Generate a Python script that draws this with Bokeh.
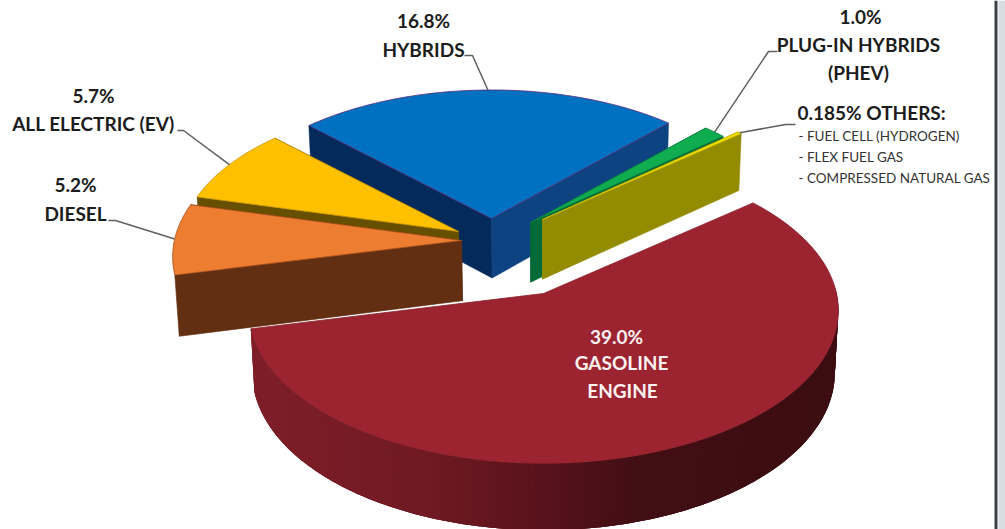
import numpy as np
from bokeh.plotting import figure
from bokeh.models import Range1d
from bokeh.core.properties import value
from bokeh.embed import file_html
from bokeh.resources import INLINE

# ---- data ----
CATEGORIES = ["GASOLINE ENGINE", "DIESEL", "ALL ELECTRIC (EV)", "HYBRIDS", "PLUG-IN HYBRIDS (PHEV)", "OTHERS"]
SHARES = [39.0, 5.2, 5.7, 16.8, 1.0, 0.185]
OTHER_ITEMS = ["- FUEL CELL (HYDROGEN)", "- FLEX FUEL GAS", "- COMPRESSED NATURAL GAS"]

# ---- styling / layout ----
TOP = ["#9c2431", "#ed7d31", "#ffc000", "#0070c0", "#10ad50", "#f0e000"]
EDGE = ["#8a1f2b", "#a8501c", "#c89400", "#5a2a7a", "#0a8040", "#c8b800"]
CUT_A = ["#6a1620", "#622f13", "#665000", "#042a5c", "#046a38", "#948c00"]   # wall at the start of the sweep
CUT_B = ["#6a1620", "#622f13", "#665000", "#0c4380", "#046a38", "#948c00"]   # wall at the end of the sweep
APEX = [(543, 293), (461, 240), (458, 231), (491, 218), (530, 222), (542, 219)]
RADIUS = [1.0, 0.98, 0.945, 0.94, 0.93, 0.945]
START_DEG = -40.0
A, C, K = 293.0, 151.0, -0.111      # perspective of the pie plane
DRAW_ORDER = [3, 4, 5, 0, 2, 1]
GRAD_X = [250, 430, 540, 640, 840]
GRAD_RGB = [(127, 31, 41), (112, 26, 36), (90, 19, 28), (66, 15, 20), (60, 13, 17)]


def project(theta, apex, r):
    u, v = r * np.cos(theta), r * np.sin(theta)
    d = 1 + K * v
    return apex[0] + A * u / d, apex[1] + C * v / d


def drop(x, y):
    x, y = np.asarray(x, float), np.asarray(y, float)
    return x + (545 - x) * 0.012, y + 57 + 0.03 * (y - 135)


def shade(x):
    rgb = [int(np.interp(x, GRAD_X, [c[i] for c in GRAD_RGB])) for i in range(3)]
    return "#%02x%02x%02x" % tuple(rgb)


p = figure(width=1005, height=529, output_backend="svg", toolbar_location=None,
           x_range=Range1d(0, 1005), y_range=Range1d(529, 0), min_border=0,
           outline_line_color=None, background_fill_color="white")
p.axis.visible = False
p.grid.visible = False

total = sum(SHARES)
sweeps = np.radians(np.array(SHARES) / total * 360.0)
starts = np.radians(START_DEG) + np.concatenate([[0], np.cumsum(sweeps)[:-1]])
mids = starts + sweeps / 2

for i in DRAW_ORDER:
    n = max(8, int(np.degrees(sweeps[i])))
    th = np.linspace(starts[i], starts[i] + sweeps[i], n + 1)
    ax_, ay_ = APEX[i]
    ex, ey = project(th, APEX[i], RADIUS[i])
    bx, by = drop(ex, ey)
    adx, ady = drop(ax_, ay_)
    if i != 0:
        # cut walls
        for end, col in ((0, CUT_A[i]), (-1, CUT_B[i])):
            p.patch([ax_, ex[end], bx[end], adx], [ay_, ey[end], by[end], ady],
                    fill_color=col, line_color=col, line_width=0.6)
    else:
        # outer wall with a stepped shade, overlapping bands
        vis = np.where(np.sin(th) > -0.05)[0]
        for j in vis[:-1]:
            k = min(j + 3, vis[-1])
            q = list(ex[j:k + 1]) + list(bx[j:k + 1][::-1])
            r = list(ey[j:k + 1]) + list(by[j:k + 1][::-1])
            p.patch(q, r, fill_color=shade(ex[j]), line_color=None)
    # top
    p.patch([ax_] + list(ex), [ay_] + list(ey), fill_color=TOP[i],
            line_color=EDGE[i], line_width=0.8)

# leaders: knots next to the label, then to the middle of the slice's rim
KNOTS = {
    3: [(464, 55), (472, 55)],
    2: [(177, 130), (183, 130)],
    1: [(108, 220), (115, 220)],
    4: [(777, 51), (768, 51)],
    5: [(795, 124), (785, 124)],
}
for i, pts in KNOTS.items():
    ex, ey = project(mids[i], APEX[i], RADIUS[i])
    xs = [q[0] for q in pts] + [float(ex)]
    ys = [q[1] for q in pts] + [float(ey)]
    p.line(xs, ys, line_color="#5f5f5f", line_width=1.5)


# labels
def pct(v):
    return f"{v:.3f}%" if v < 0.5 else f"{v:.1f}%"


BIG = "19px"
FONT = value("Lato")
DARK = "#1c1c1c"
big = [
    (423, 20, pct(SHARES[3]), "center", DARK),
    (423, 49, "HYBRIDS", "center", DARK),
    (93, 95, pct(SHARES[2]), "center", DARK),
    (93, 123, "ALL ELECTRIC (EV)", "center", DARK),
    (75, 184, pct(SHARES[1]), "center", DARK),
    (75, 213, "DIESEL", "center", DARK),
    (860, 16, pct(SHARES[4]), "center", DARK),
    (858, 44, "PLUG-IN HYBRIDS", "center", DARK),
    (858, 72, "(PHEV)", "center", DARK),
    (797, 112, pct(SHARES[5]) + " OTHERS:", "left", DARK),
    (616, 336, pct(SHARES[0]), "center", "#fdf3f3"),
    (621, 362, "GASOLINE", "center", "#fdf3f3"),
    (622, 390, "ENGINE", "center", "#fdf3f3"),
]
for x, y, t, al, col in big:
    p.text([x], [y], text=[t], text_align=al, text_baseline="middle", text_color=col,
           text_font=FONT, text_font_style="bold", text_font_size=value(BIG))
for y, t in zip([135.5, 156.5, 177], OTHER_ITEMS):
    p.text([798], [y], text=[t], text_align="left", text_baseline="middle", text_color="#333333",
           text_font=FONT, text_font_size=value("13.5px"))

# window frame at the right edge
p.quad(left=[998], right=[1005], top=[0], bottom=[529], fill_color="#d6dce1", line_color=None)
p.line([995.5, 995.5], [0, 529], line_color="#3a3f45", line_width=3)

open("out.html", "w").write(file_html(p, INLINE))
